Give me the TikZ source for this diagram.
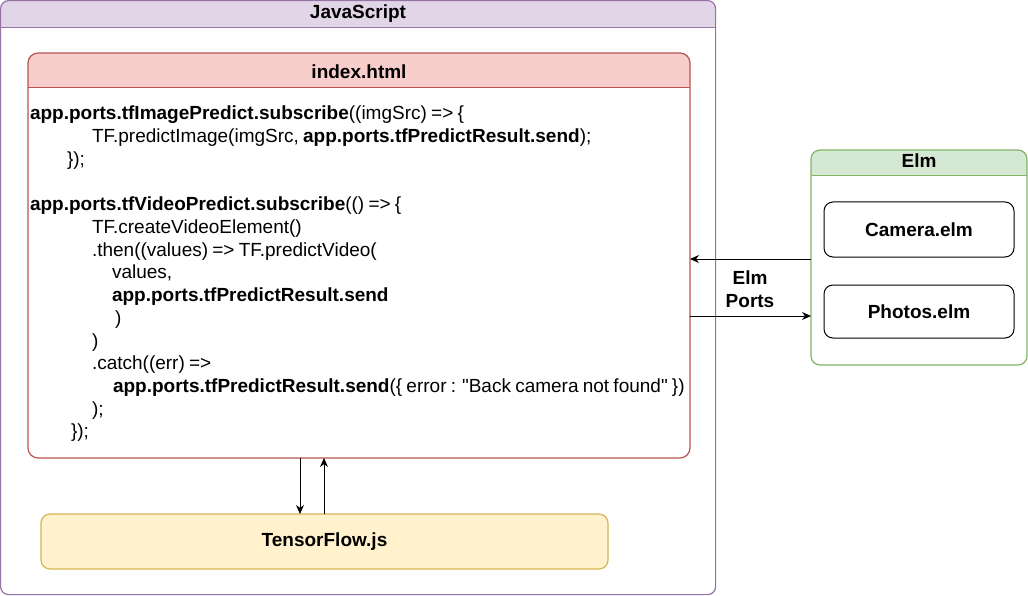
\documentclass[tikz,border=0pt]{standalone}
\usepackage{fontspec}
\setmainfont{Liberation Sans}[Ligatures=TeXOff, WordSpace=0.8]
\usetikzlibrary{arrows.meta}
\definecolor{jsfill}{HTML}{E1D5E7}
\definecolor{jsline}{HTML}{9673A6}
\definecolor{ixfill}{HTML}{F8CECC}
\definecolor{ixline}{HTML}{B85450}
\definecolor{elfill}{HTML}{D5E8D4}
\definecolor{elline}{HTML}{82B366}
\definecolor{tffill}{HTML}{FFF2CC}
\definecolor{tfline}{HTML}{D6B656}
\begin{document}
\begin{tikzpicture}[x=1pt,y=-1pt,
  every node/.style={font=\fontsize{19}{23}\selectfont, inner sep=0pt, outer sep=0pt},
  container/.style={anchor=north west, fill=white},
  title/.style={font=\fontsize{19}{23}\selectfont\bfseries},
  code/.style={anchor=base west},
  elmbox/.style={anchor=north west, draw=black, line width=1pt, rounded corners=9pt, fill=white, font=\fontsize{19}{23}\selectfont\bfseries},
  arr/.style={line width=1pt, -{Stealth[length=9pt,width=8pt]}}
]
\useasboundingbox (0,0) rectangle (1028,596);

% JavaScript container
\node[container, minimum width=715pt, minimum height=594pt] (js) at (0.6,0.6) {};
\begin{scope}
  \clip[rounded corners=8pt] (js.north west) rectangle (js.south east);
  \fill[jsfill] (js.north west) rectangle ([yshift=-26.5pt]js.north east);
\end{scope}
\draw[jsline, line width=1pt] ([yshift=-26.5pt]js.north west) -- ([yshift=-26.5pt]js.north east);
\draw[jsline, line width=1.2pt, rounded corners=8pt] (js.north west) rectangle (js.south east);
\node[title] (jst) at (358,14) {JavaScript};

% index.html container
\node[container, minimum width=662pt, minimum height=405pt] (idx) at (28,53) {};
\begin{scope}
  \clip[rounded corners=10pt] (idx.north west) rectangle (idx.south east);
  \fill[ixfill] (idx.north west) rectangle ([yshift=-35pt]idx.north east);
\end{scope}
\draw[ixline, line width=1pt] ([yshift=-35pt]idx.north west) -- ([yshift=-35pt]idx.north east);
\draw[ixline, line width=1.2pt, rounded corners=10pt] (idx.north west) rectangle (idx.south east);
\node[title] (idxt) at (359,72) {index.html};

% code lines
\node[code] (c1) at (30,120) {\textbf{app.ports.tfImagePredict.subscribe}((imgSrc) => \{};
\node[code] (c2) at (92,142.7) {TF.predictImage(imgSrc, \textbf{app.ports.tfPredictResult.send});};
\node[code] (c3) at (67,165.4) {\});};
\node[code] (c5) at (30,210.8) {\textbf{app.ports.tfVideoPredict.subscribe}(() => \{};
\node[code] (c6) at (92,233.5) {TF.createVideoElement()};
\node[code] (c7) at (92,256.2) {.then((values) => TF.predictVideo(};
\node[code] (c8) at (112,278.9) {values,};
\node[code] (c9) at (112,301.6) {\textbf{app.ports.tfPredictResult.send}};
\node[code] (c10) at (115,324.3) {)};
\node[code] (c11) at (92,347) {)};
\node[code] (c12) at (92,369.7) {.catch((err) =>};
\node[code] (c13) at (113,392.4) {\textbf{app.ports.tfPredictResult.send}(\{ error : "Back camera not found" \})};
\node[code] (c14) at (92,415.1) {);};
\node[code] (c15) at (71,437.8) {\});};

% Elm container
\node[container, minimum width=216pt, minimum height=215pt] (elm) at (811,150) {};
\begin{scope}
  \clip[rounded corners=9pt] (elm.north west) rectangle (elm.south east);
  \fill[elfill] (elm.north west) rectangle ([yshift=-26pt]elm.north east);
\end{scope}
\draw[elline, line width=1pt] ([yshift=-26pt]elm.north west) -- ([yshift=-26pt]elm.north east);
\draw[elline, line width=1.2pt, rounded corners=9pt] (elm.north west) rectangle (elm.south east);
\node[title] (elmt) at (919,161) {Elm};

\node[elmbox, minimum width=190pt, minimum height=55pt] (cam) at (824,202) {};
\node[title] (camt) at (cam.center) {Camera.elm};
\node[elmbox, minimum width=190pt, minimum height=53pt] (pho) at (824,285) {};
\node[title] (phot) at (pho.center) {Photos.elm};

% TensorFlow.js
\node[anchor=north west, draw=tfline, fill=tffill, line width=1.2pt, rounded corners=9pt, minimum width=567pt, minimum height=55pt] (tf) at (41,514) {};
\node[title] (tft) at (tf.center) {TensorFlow.js};

% arrows
\draw[arr] (elm.west |- 0,259) -- (idx.east |- 0,259);
\draw[arr] (idx.east |- 0,316) -- (elm.west |- 0,316);
\node[title, align=center] (ports) at (750,289) {Elm\\Ports};
\draw[arr] (idx.south -| 300,0) -- (tf.north -| 300,0);
\draw[arr] (tf.north -| 324,0) -- (idx.south -| 324,0);
\end{tikzpicture}
\end{document}
